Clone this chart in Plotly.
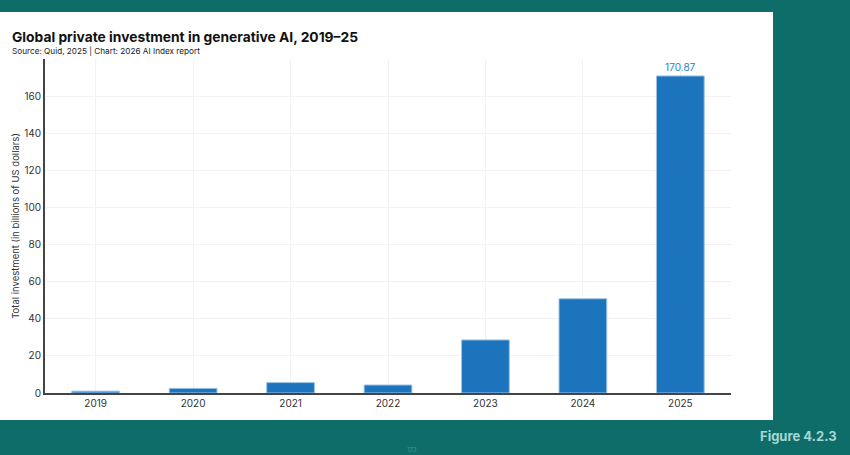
import plotly.graph_objects as go

years = ["2019", "2020", "2021", "2022", "2023", "2024", "2025"]
investment = [1.0, 2.5, 5.6, 4.3, 28.6, 50.8, 170.87]
labels = ["", "", "", "", "", "", "170.87"]
y_ticks = [0, 20, 40, 60, 80, 100, 120, 140, 160]

TEAL = "#0e6d69"
FONT = "Inter"

# plot area in pixels
L, R, T, B = 45, 731, 59, 393
W, H = 850, 455
pw, ph = R - L, B - T

def px_x(p):
    return (p - L) / pw

def px_y(p):
    return (B - p) / ph

fig = go.Figure()
fig.add_trace(go.Bar(
    x=years, y=investment,
    marker=dict(color="#1c75bc", line=dict(color="#9cc3e6", width=1)),
    width=0.49,
    text=labels, textposition="outside",
    textfont=dict(family=FONT, size=10, color="#2b80c8"),
    cliponaxis=False,
    hoverinfo="x+y",
))

fig.update_layout(
    width=W, height=H,
    margin=dict(l=L, r=W - R, t=T, b=H - B, pad=0),
    paper_bgcolor=TEAL,
    plot_bgcolor="white",
    showlegend=False,
    font=dict(family=FONT, size=10, color="#333333"),
    shapes=[dict(type="rect", xref="paper", yref="paper",
                 x0=px_x(0), x1=px_x(773), y0=px_y(420), y1=px_y(12),
                 fillcolor="white", line=dict(width=0), layer="below")],
    annotations=[
        dict(text="<b>Global private investment in generative AI, 2019–25</b>",
             xref="paper", yref="paper", x=px_x(10), y=px_y(37),
             xanchor="left", yanchor="middle", showarrow=False,
             font=dict(family=FONT, size=13.8, color="#111111")),
        dict(text="Source: Quid, 2025 | Chart: 2026 AI Index report",
             xref="paper", yref="paper", x=px_x(10), y=px_y(51),
             xanchor="left", yanchor="middle", showarrow=False,
             font=dict(family=FONT, size=8.2, color="#222222")),
        dict(text="<b>Figure 4.2.3</b>",
             xref="paper", yref="paper", x=px_x(839), y=px_y(436),
             xanchor="right", yanchor="middle", showarrow=False,
             font=dict(family=FONT, size=13, color="#a3d8d5")),
        dict(text="173",
             xref="paper", yref="paper", x=px_x(412), y=px_y(455),
             xanchor="center", yanchor="bottom", showarrow=False,
             font=dict(family=FONT, size=6, color="#4f918e")),
    ],
)

fig.update_xaxes(
    type="category", range=[-0.52, 6.52],
    showline=True, linecolor="#444444", linewidth=2,
    showgrid=True, gridcolor="#f2f2f2", gridwidth=1,
    ticks="", tickfont=dict(family=FONT, size=10, color="#333333"),
    fixedrange=True,
)
fig.update_yaxes(
    range=[0, 180], tickvals=y_ticks,
    showline=True, linecolor="#444444", linewidth=2,
    showgrid=True, gridcolor="#f2f2f2", gridwidth=1,
    zeroline=False, ticks="",
    tickfont=dict(family=FONT, size=10, color="#333333"),
    title=dict(text="Total investment (in billions of US dollars)",
               font=dict(family=FONT, size=9.5, color="#333333"), standoff=3),
    fixedrange=True,
)

fig.write_html("out.html")
